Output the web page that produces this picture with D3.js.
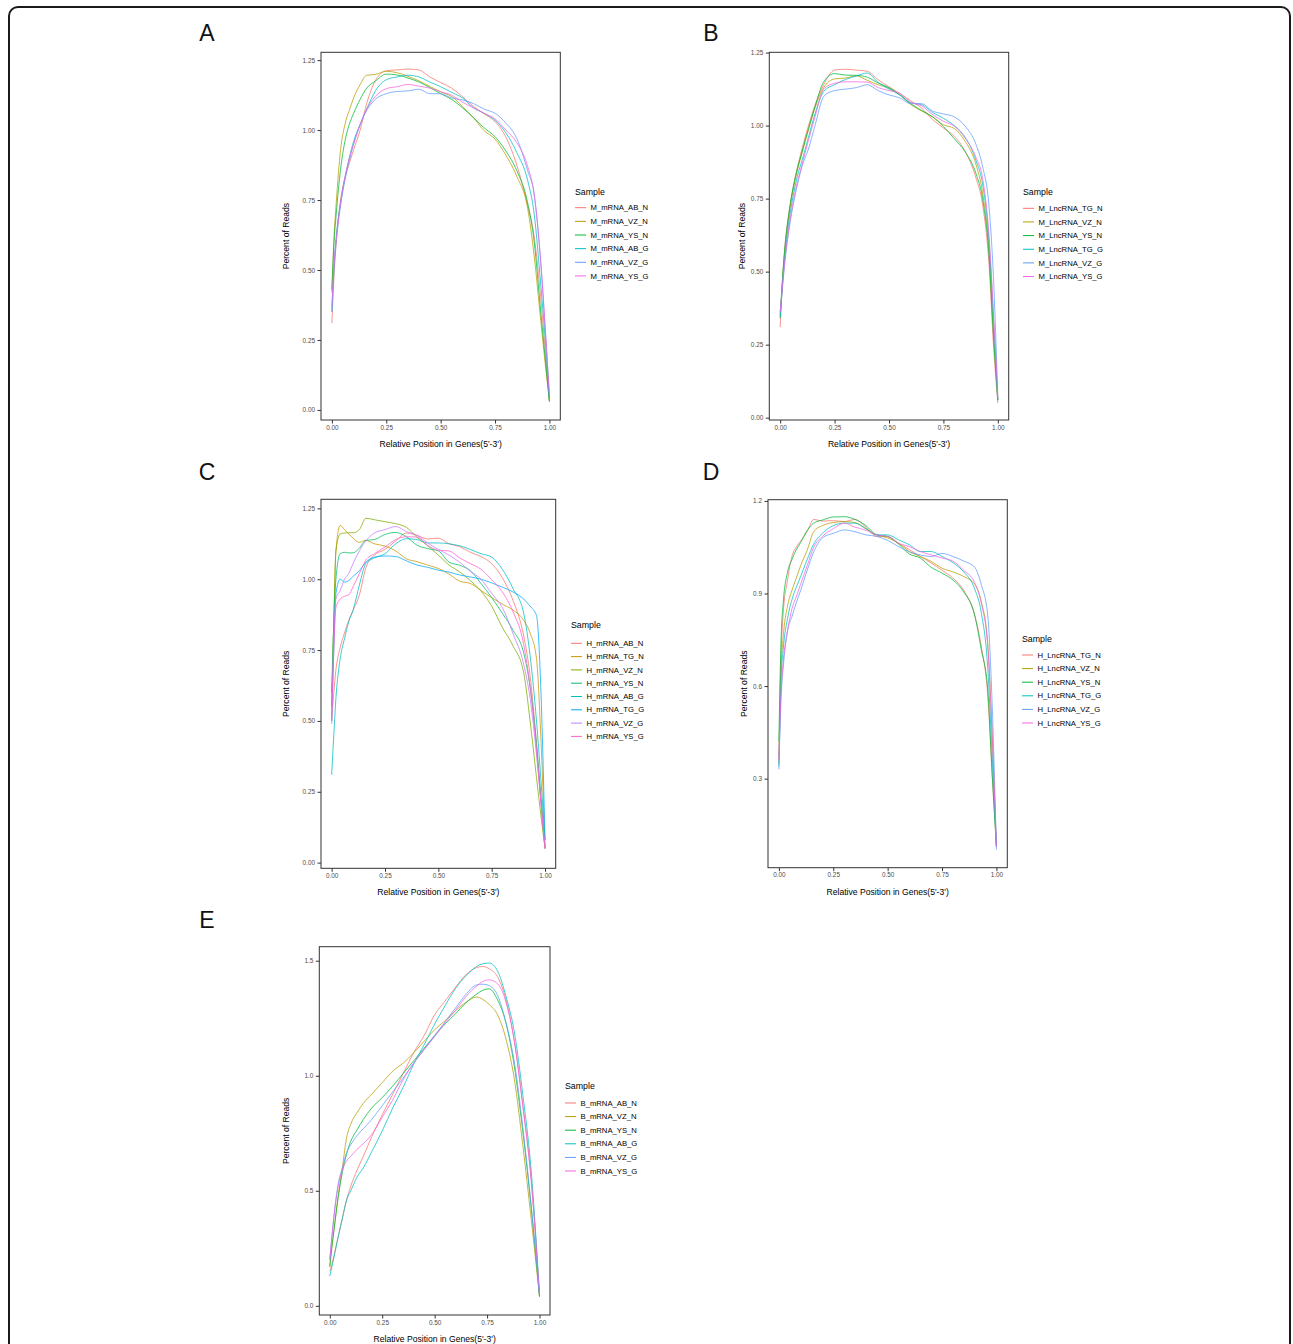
<!DOCTYPE html>
<html lang="en">
<head>
<meta charset="UTF-8">
<title>Gene body coverage</title>
<script src="https://d3js.org/d3.v7.min.js"></script>
<style>
  body { margin: 0; background: #fff; font-family: "Liberation Sans", Arial, sans-serif; }
  svg { display: block; }
  .tick text { fill: #4d4d4d; font-size: 6.4px; font-family: "Liberation Sans", Arial, sans-serif; }
  .tick line { stroke: #333; }
</style>
</head>
<body>
<svg id="fig"></svg>
<script>
// relative position along the gene (5'->3')
const pos = [0, .01, .02, .04, .06, .08, .1, .13, .16, .2, .25, .3, .35, .4, .45, .5, .55, .6, .65, .7, .75, .8, .85, .9, .93, .96, .98, 1];
const posE = [0, .01, .02, .04, .06, .08, .1, .13, .16, .2, .25, .3, .35, .4, .45, .5, .55, .6, .65, .7, .73, .76, .8, .84, .88, .92, .96, 1];

const xTicks = [0, 0.25, 0.5, 0.75, 1];
const yTicksQuarter = [0, 0.25, 0.5, 0.75, 1, 1.25];
const yTicksD = [0.3, 0.6, 0.9, 1.2];
const yTicksE = [0, 0.5, 1, 1.5];

const samplesA = ["M_mRNA_AB_N", "M_mRNA_VZ_N", "M_mRNA_YS_N", "M_mRNA_AB_G", "M_mRNA_VZ_G", "M_mRNA_YS_G"];
const samplesB = ["M_LncRNA_TG_N", "M_LncRNA_VZ_N", "M_LncRNA_YS_N", "M_LncRNA_TG_G", "M_LncRNA_VZ_G", "M_LncRNA_YS_G"];
const samplesC = ["H_mRNA_AB_N", "H_mRNA_TG_N", "H_mRNA_VZ_N", "H_mRNA_YS_N", "H_mRNA_AB_G", "H_mRNA_TG_G", "H_mRNA_VZ_G", "H_mRNA_YS_G"];
const samplesD = ["H_LncRNA_TG_N", "H_LncRNA_VZ_N", "H_LncRNA_YS_N", "H_LncRNA_TG_G", "H_LncRNA_VZ_G", "H_LncRNA_YS_G"];
const samplesE = ["B_mRNA_AB_N", "B_mRNA_VZ_N", "B_mRNA_YS_N", "B_mRNA_AB_G", "B_mRNA_VZ_G", "B_mRNA_YS_G"];

// percent of reads, one row per sample (same order as the sample lists)
const readsA = [
  [0.31, 0.48, 0.60, 0.75, 0.83, 0.88, 0.93, 1.0, 1.095, 1.177, 1.212, 1.215, 1.218, 1.215, 1.19, 1.17, 1.15, 1.12, 1.085, 1.058, 1.03, 0.975, 0.875, 0.73, 0.62, 0.40, 0.22, 0.03],
  [0.42, 0.62, 0.74, 0.93, 1.02, 1.07, 1.115, 1.163, 1.196, 1.199, 1.21, 1.205, 1.192, 1.176, 1.156, 1.137, 1.12, 1.085, 1.045, 0.998, 0.968, 0.91, 0.835, 0.72, 0.55, 0.32, 0.17, 0.03],
  [0.43, 0.60, 0.70, 0.86, 0.96, 1.02, 1.06, 1.11, 1.15, 1.175, 1.20, 1.197, 1.186, 1.172, 1.152, 1.13, 1.11, 1.08, 1.045, 1.008, 0.976, 0.925, 0.855, 0.74, 0.60, 0.35, 0.19, 0.03],
  [0.35, 0.52, 0.62, 0.74, 0.83, 0.90, 0.96, 1.02, 1.075, 1.14, 1.18, 1.19, 1.196, 1.19, 1.172, 1.155, 1.135, 1.115, 1.08, 1.06, 1.035, 0.99, 0.92, 0.82, 0.70, 0.45, 0.26, 0.04],
  [0.35, 0.50, 0.60, 0.73, 0.82, 0.89, 0.95, 1.02, 1.07, 1.11, 1.13, 1.138, 1.14, 1.146, 1.13, 1.13, 1.115, 1.108, 1.095, 1.075, 1.06, 1.025, 0.97, 0.855, 0.77, 0.53, 0.30, 0.05],
  [0.37, 0.52, 0.61, 0.74, 0.83, 0.90, 0.95, 1.02, 1.075, 1.12, 1.148, 1.155, 1.163, 1.157, 1.15, 1.137, 1.125, 1.10, 1.08, 1.06, 1.04, 1.0, 0.955, 0.87, 0.77, 0.53, 0.30, 0.05]
];
const readsB = [
  [0.31, 0.46, 0.57, 0.70, 0.79, 0.86, 0.92, 1.0, 1.07, 1.14, 1.19, 1.193, 1.19, 1.186, 1.157, 1.133, 1.11, 1.085, 1.06, 1.021, 0.992, 0.963, 0.912, 0.82, 0.73, 0.52, 0.25, 0.05],
  [0.34, 0.46, 0.56, 0.69, 0.78, 0.85, 0.905, 0.985, 1.06, 1.13, 1.16, 1.163, 1.17, 1.155, 1.14, 1.128, 1.105, 1.072, 1.05, 1.03, 1.003, 0.99, 0.946, 0.866, 0.77, 0.57, 0.30, 0.06],
  [0.35, 0.47, 0.57, 0.70, 0.79, 0.855, 0.91, 0.99, 1.065, 1.15, 1.178, 1.173, 1.172, 1.166, 1.146, 1.13, 1.105, 1.075, 1.052, 1.03, 0.997, 0.955, 0.91, 0.835, 0.75, 0.55, 0.28, 0.06],
  [0.34, 0.45, 0.54, 0.67, 0.76, 0.83, 0.88, 0.96, 1.04, 1.117, 1.14, 1.158, 1.17, 1.18, 1.148, 1.125, 1.105, 1.078, 1.072, 1.045, 1.025, 1.0, 0.96, 0.88, 0.80, 0.60, 0.34, 0.06],
  [0.36, 0.44, 0.52, 0.64, 0.73, 0.80, 0.86, 0.92, 1.0, 1.10, 1.12, 1.125, 1.13, 1.14, 1.12, 1.105, 1.095, 1.075, 1.075, 1.05, 1.04, 1.03, 0.998, 0.935, 0.86, 0.72, 0.48, 0.07],
  [0.36, 0.45, 0.53, 0.65, 0.74, 0.81, 0.865, 0.95, 1.03, 1.125, 1.145, 1.15, 1.15, 1.149, 1.13, 1.12, 1.11, 1.08, 1.068, 1.038, 1.015, 0.998, 0.957, 0.89, 0.82, 0.62, 0.36, 0.07]
];
const readsC = [
  [0.50, 0.60, 0.68, 0.76, 0.81, 0.855, 0.89, 0.945, 1.04, 1.085, 1.105, 1.135, 1.163, 1.155, 1.142, 1.145, 1.125, 1.115, 1.095, 1.08, 1.055, 1.005, 0.925, 0.80, 0.66, 0.42, 0.22, 0.05],
  [0.55, 0.85, 1.10, 1.19, 1.175, 1.16, 1.145, 1.13, 1.137, 1.125, 1.117, 1.10, 1.072, 1.062, 1.05, 1.038, 1.018, 0.993, 0.985, 0.96, 0.935, 0.912, 0.891, 0.855, 0.81, 0.72, 0.45, 0.05],
  [0.55, 0.85, 1.10, 1.16, 1.163, 1.164, 1.164, 1.175, 1.215, 1.21, 1.203, 1.196, 1.183, 1.148, 1.118, 1.085, 1.05, 1.026, 0.995, 0.958, 0.905, 0.83, 0.765, 0.67, 0.50, 0.30, 0.17, 0.05],
  [0.60, 0.85, 1.0, 1.09, 1.095, 1.093, 1.093, 1.11, 1.137, 1.14, 1.158, 1.165, 1.15, 1.12, 1.108, 1.10, 1.06, 1.049, 1.03, 0.985, 0.935, 0.88, 0.82, 0.74, 0.62, 0.42, 0.24, 0.06],
  [0.31, 0.45, 0.58, 0.72, 0.79, 0.85, 0.89, 0.98, 1.055, 1.075, 1.09, 1.125, 1.143, 1.14, 1.128, 1.128, 1.125, 1.118, 1.105, 1.09, 1.078, 1.035, 0.967, 0.88, 0.73, 0.50, 0.30, 0.08],
  [0.50, 0.75, 0.95, 1.0, 0.99, 0.995, 1.01, 1.03, 1.06, 1.078, 1.082, 1.08, 1.065, 1.05, 1.042, 1.032, 1.025, 1.015, 1.008, 1.0, 0.987, 0.972, 0.955, 0.93, 0.905, 0.872, 0.62, 0.08],
  [0.50, 0.80, 0.93, 0.96, 1.0, 1.02, 1.055, 1.1, 1.135, 1.163, 1.175, 1.186, 1.168, 1.155, 1.128, 1.105, 1.085, 1.06, 1.028, 1.0, 0.95, 0.90, 0.808, 0.70, 0.58, 0.38, 0.22, 0.05],
  [0.49, 0.75, 0.90, 0.93, 0.94, 0.945, 0.973, 1.02, 1.067, 1.09, 1.114, 1.14, 1.15, 1.149, 1.12, 1.102, 1.10, 1.075, 1.055, 1.035, 0.998, 0.955, 0.885, 0.77, 0.62, 0.40, 0.22, 0.05]
];
const readsD = [
  [0.37, 0.70, 0.836, 0.944, 1.02, 1.05, 1.07, 1.10, 1.14, 1.135, 1.136, 1.133, 1.14, 1.115, 1.085, 1.085, 1.063, 1.042, 1.02, 0.999, 0.975, 0.95, 0.91, 0.83, 0.73, 0.57, 0.32, 0.08],
  [0.35, 0.65, 0.76, 0.86, 0.91, 0.95, 0.99, 1.04, 1.10, 1.12, 1.13, 1.133, 1.13, 1.11, 1.09, 1.08, 1.063, 1.036, 1.02, 1.004, 0.982, 0.97, 0.955, 0.93, 0.875, 0.74, 0.45, 0.08],
  [0.42, 0.75, 0.87, 0.97, 1.01, 1.042, 1.065, 1.105, 1.128, 1.138, 1.148, 1.149, 1.14, 1.12, 1.09, 1.085, 1.06, 1.028, 1.015, 0.985, 0.966, 0.944, 0.905, 0.83, 0.72, 0.59, 0.32, 0.08],
  [0.34, 0.62, 0.72, 0.82, 0.88, 0.92, 0.955, 1.01, 1.06, 1.095, 1.12, 1.128, 1.128, 1.11, 1.09, 1.09, 1.074, 1.058, 1.036, 1.036, 1.02, 1.0, 0.97, 0.915, 0.84, 0.66, 0.38, 0.08],
  [0.33, 0.56, 0.66, 0.78, 0.825, 0.87, 0.91, 0.975, 1.035, 1.08, 1.095, 1.106, 1.10, 1.09, 1.085, 1.072, 1.052, 1.035, 1.025, 1.02, 1.03, 1.02, 1.005, 0.985, 0.93, 0.83, 0.55, 0.07],
  [0.36, 0.58, 0.68, 0.78, 0.85, 0.89, 0.93, 0.99, 1.05, 1.085, 1.11, 1.128, 1.115, 1.105, 1.09, 1.085, 1.063, 1.052, 1.036, 1.025, 1.015, 1.005, 0.975, 0.935, 0.87, 0.73, 0.45, 0.08]
];
const readsE = [
  [0.15, 0.18, 0.22, 0.30, 0.38, 0.46, 0.52, 0.59, 0.65, 0.735, 0.83, 0.92, 1.01, 1.10, 1.175, 1.265, 1.325, 1.385, 1.44, 1.47, 1.475, 1.465, 1.43, 1.33, 1.15, 0.875, 0.55, 0.04],
  [0.17, 0.25, 0.33, 0.48, 0.60, 0.73, 0.79, 0.84, 0.88, 0.92, 0.97, 1.02, 1.055, 1.10, 1.15, 1.20, 1.24, 1.283, 1.32, 1.342, 1.332, 1.31, 1.265, 1.16, 0.985, 0.70, 0.38, 0.04],
  [0.17, 0.26, 0.33, 0.47, 0.58, 0.66, 0.715, 0.765, 0.81, 0.86, 0.905, 0.955, 1.01, 1.065, 1.12, 1.175, 1.225, 1.27, 1.318, 1.355, 1.372, 1.378, 1.33, 1.23, 1.04, 0.76, 0.43, 0.04],
  [0.13, 0.17, 0.21, 0.30, 0.38, 0.46, 0.50, 0.56, 0.60, 0.67, 0.76, 0.86, 0.95, 1.05, 1.135, 1.225, 1.305, 1.38, 1.435, 1.475, 1.487, 1.49, 1.455, 1.345, 1.19, 0.92, 0.59, 0.05],
  [0.20, 0.30, 0.39, 0.53, 0.60, 0.665, 0.70, 0.74, 0.77, 0.81, 0.87, 0.93, 0.99, 1.055, 1.115, 1.175, 1.235, 1.295, 1.355, 1.395, 1.398, 1.392, 1.35, 1.23, 1.06, 0.78, 0.44, 0.05],
  [0.20, 0.30, 0.39, 0.52, 0.59, 0.63, 0.65, 0.68, 0.705, 0.745, 0.82, 0.895, 0.983, 1.055, 1.113, 1.17, 1.23, 1.285, 1.345, 1.39, 1.41, 1.417, 1.40, 1.32, 1.15, 0.87, 0.55, 0.05]
];

// ggplot default hue palettes
const hue6 = ["#F8766D", "#B79F00", "#00BA38", "#00BFC4", "#619CFF", "#F564E3"];
const hue8 = ["#F8766D", "#CD9600", "#7CAE00", "#00BE67", "#00BFC4", "#00A9FF", "#C77CFF", "#FF61CC"];

const W = 1293, H = 1344;
const svg = d3.select("#fig").attr("width", W).attr("height", H);

// outer rounded frame
svg.append("rect")
  .attr("x", 9).attr("y", 7)
  .attr("width", 1281).attr("height", 1420)
  .attr("rx", 9)
  .attr("fill", "none")
  .attr("stroke", "#1a1a1a")
  .attr("stroke-width", 2);

const panels = [
  { label: "A", lab: [207, 33], box: [321, 52.3, 560.3, 420], yDomain: [-0.036, 1.278], yTicks: yTicksQuarter, fmt: ".2f",
    pos: pos, samples: samplesA, reads: readsA, colors: hue6, leg: [575, 191.7, 207.7, 13.65], yTitleX: 286 },
  { label: "B", lab: [711, 33], box: [769.3, 52.3, 1008.7, 420], yDomain: [-0.008, 1.251], yTicks: yTicksQuarter, fmt: ".2f",
    pos: pos, samples: samplesB, reads: readsB, colors: hue6, leg: [1023, 191.7, 208.3, 13.65], yTitleX: 742 },
  { label: "C", lab: [207, 472], box: [321, 499.3, 555.7, 868.3], yDomain: [-0.02, 1.282], yTicks: yTicksQuarter, fmt: ".2f",
    pos: pos, samples: samplesC, reads: readsC, colors: hue8, leg: [571, 625.3, 643.3, 13.3], yTitleX: 286 },
  { label: "D", lab: [711, 472], box: [768, 499.7, 1007.3, 867.7], yDomain: [0.0115, 1.204], yTicks: yTicksD, fmt: ".1f",
    pos: pos, samples: samplesD, reads: readsD, colors: hue6, leg: [1022, 639, 655, 13.6], yTitleX: 744 },
  { label: "E", lab: [207, 920], box: [319.3, 946.7, 550, 1315], yDomain: [-0.04, 1.561], yTicks: yTicksE, fmt: ".1f",
    pos: posE, samples: samplesE, reads: readsE, colors: hue6, leg: [565, 1086.3, 1103, 13.6], yTitleX: 286 }
];

panels.forEach(drawPanel);

function drawPanel(p) {
  const [x0, y0, x1, y1] = p.box;
  const x = d3.scaleLinear().domain([-0.05, 1.05]).range([x0, x1]);
  const y = d3.scaleLinear().domain(p.yDomain).range([y1, y0]);
  const g = svg.append("g");

  g.append("text")
    .attr("x", p.lab[0]).attr("y", p.lab[1])
    .attr("dy", "0.36em")
    .attr("text-anchor", "middle")
    .style("font-size", "23px")
    .attr("fill", "#111")
    .text(p.label);

  const line = d3.line()
    .x(d => x(d[0]))
    .y(d => y(d[1]))
    .curve(d3.curveMonotoneX);

  p.reads.forEach((vals, i) => {
    g.append("path")
      .datum(p.pos.map((v, j) => [v, vals[j]]))
      .attr("d", line)
      .attr("fill", "none")
      .attr("stroke", p.colors[i])
      .attr("stroke-opacity", 0.85)
      .attr("stroke-width", 0.9);
  });

  g.append("rect")
    .attr("x", x0).attr("y", y0)
    .attr("width", x1 - x0).attr("height", y1 - y0)
    .attr("fill", "none")
    .attr("stroke", "#333")
    .attr("stroke-width", 1);

  g.append("g")
    .attr("transform", `translate(0,${y1})`)
    .call(d3.axisBottom(x).tickValues(xTicks).tickFormat(d3.format(".2f")).tickSize(3.5).tickPadding(1.5))
    .call(s => s.select(".domain").remove());

  g.append("g")
    .attr("transform", `translate(${x0},0)`)
    .call(d3.axisLeft(y).tickValues(p.yTicks).tickFormat(d3.format(p.fmt)).tickSize(3.5).tickPadding(2.5))
    .call(s => s.select(".domain").remove());

  g.append("text")
    .attr("x", (x0 + x1) / 2).attr("y", y1 + 24)
    .attr("dy", "0.35em")
    .attr("text-anchor", "middle")
    .style("font-size", "8.6px")
    .text("Relative Position in Genes(5'-3')");

  g.append("text")
    .attr("transform", `translate(${p.yTitleX},${(y0 + y1) / 2}) rotate(-90)`)
    .attr("dy", "0.35em")
    .attr("text-anchor", "middle")
    .style("font-size", "8.6px")
    .text("Percent of Reads");

  // legend
  const [lx, ty, iy, step] = p.leg;
  const lg = g.append("g");
  lg.append("text")
    .attr("x", lx).attr("y", ty)
    .attr("dy", "0.35em")
    .style("font-size", "8.8px")
    .text("Sample");
  p.samples.forEach((name, i) => {
    const yy = iy + i * step;
    lg.append("line")
      .attr("x1", lx).attr("x2", lx + 11)
      .attr("y1", yy).attr("y2", yy)
      .attr("stroke", p.colors[i])
      .attr("stroke-width", 1);
    lg.append("text")
      .attr("x", lx + 15.5).attr("y", yy)
      .attr("dy", "0.35em")
      .style("font-size", "7.7px")
      .text(name);
  });
}
</script>
</body>
</html>
